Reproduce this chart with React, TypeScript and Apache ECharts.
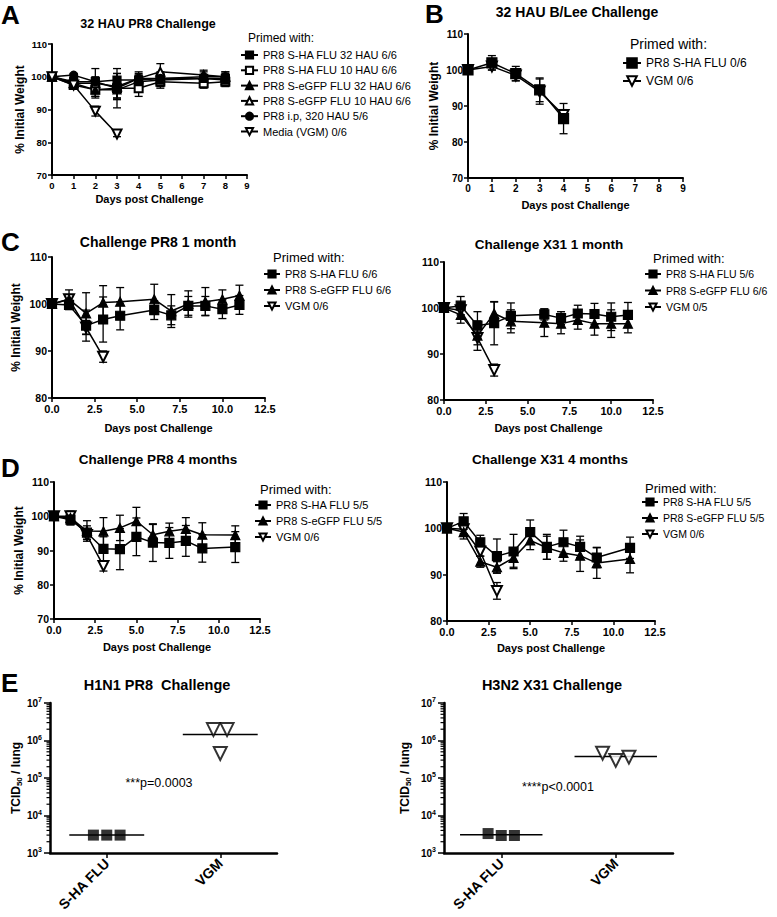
import React, { useEffect, useRef } from "react";
import * as echarts from "echarts";

const FONT = "'Liberation Sans', Arial, Helvetica, sans-serif";

// ---------- Panel A : 32 HAU PR8 Challenge ----------
const daysA = [0, 1, 2, 3, 4, 5, 7, 8];
const daysAVgm = [0, 1, 2, 3];
const aNames = [
  "PR8 S-HA FLU 32 HAU 6/6",
  "PR8 S-HA FLU 10 HAU 6/6",
  "PR8 S-eGFP FLU 32 HAU 6/6",
  "PR8 S-eGFP FLU 10 HAU 6/6",
  "PR8 i.p, 320 HAU 5/6",
  "Media (VGM) 0/6",
];
const aSha32 = [100, 98.5, 98.5, 99, 99, 99.5, 99.5, 99.5];
const aSha32Err = [0, 1, 1.5, 2, 1.5, 1.5, 1, 1.5];
const aSha10 = [100, 97.5, 96, 96.5, 96.5, 98.5, 98, 98.5];
const aSha10Err = [0, 1, 2, 3, 2.5, 2, 1.5, 1.5];
const aGfp32 = [100, 98, 96, 96, 98.5, 99, 99.5, 99];
const aGfp32Err = [0, 1, 2, 2.5, 2, 2, 1, 1];
const aGfp10 = [100, 98, 98, 97, 99.5, 101.5, 100.5, 100];
const aGfp10Err = [0, 1, 4.5, 4, 2, 2.5, 1.5, 1.5];
const aIp = [100, 100.5, 98.5, 96.5, 99.5, 99.5, 100, 100];
const aIpErr = [0, 0.5, 1, 6, 1.5, 2, 1.5, 1.5];
const aVgm = [100, 97.5, 89.5, 82.5];
const aVgmErr = [0, 0.8, 1.5, 0.8];

// ---------- Panel B : 32 HAU B/Lee Challenge ----------
const daysB = [0, 1, 2, 3, 4];
const bNames = ["PR8 S-HA FLU 0/6", "VGM 0/6"];
const bSha = [100, 102, 99, 94.5, 86.5];
const bShaErr = [0, 2, 2, 3.3, 4.2];
const bVgm = [100, 101, 98.5, 94, 87.5];
const bVgmErr = [0, 1, 1.5, 3.5, 1.5];

// ---------- Panel C left : Challenge PR8 1 month ----------
const daysC = [0, 1, 2, 3, 4, 6, 7, 8, 9, 10, 11];
const daysVgm = [0, 1, 2, 3];
const c1Names = ["PR8 S-HA FLU 6/6", "PR8 S-eGFP FLU 6/6", "VGM 0/6"];
const c1Sha = [100, 99.8, 95.4, 96.7, 97.5, 98.7, 97.6, 99.6, 99.6, 98.9, 99.8];
const c1ShaErr = [0, 1, 3.3, 4.8, 3, 2, 2, 2, 2, 2, 2];
const c1Gfp = [100, 101, 98, 100.3, 100.5, 101, 98.5, 100, 100.5, 101, 101.8];
const c1GfpErr = [0, 2, 4.4, 3.6, 3, 3.2, 3.5, 2.8, 3, 2, 2.2];
const c1Vgm = [100, 101, 95, 88.8];
const c1VgmErr = [0, 1, 1.5, 1.2];

// ---------- Panel C right : Challenge X31 1 month ----------
const c2Names = ["PR8 S-HA FLU 5/6", "PR8 S-eGFP FLU 6/6", "VGM 0/5"];
const c2Sha = [100, 100.5, 96.2, 96.7, 98.3, 98.6, 97.8, 98.8, 98.7, 98.1, 98.5];
const c2ShaErr = [0, 2, 3, 4.7, 2.8, 1.2, 1.4, 1.8, 2.3, 3, 2.7];
const c2Gfp = [100, 98.5, 94, 98.8, 97.1, 96.8, 96.6, 97.4, 96.6, 96.6, 96.6];
const c2GfpErr = [0, 1.8, 3.2, 2.5, 2.5, 3, 2.2, 2, 2.5, 3, 2];
const c2Vgm = [100, 99.5, 93.5, 86.5];
const c2VgmErr = [0, 1, 1.5, 1.3];

// ---------- Panel D left : Challenge PR8 4 months ----------
const daysD = [0, 1, 2, 3, 4, 5, 6, 7, 8, 9, 11];
const d1Names = ["PR8 S-HA FLU 5/5", "PR8 S-eGFP FLU 5/5", "VGM 0/6"];
const d1Sha = [100, 99, 95.2, 90.5, 90.4, 94, 92.3, 92.2, 92.8, 90.6, 91];
const d1ShaErr = [0, 1.5, 2, 3.5, 6, 5.5, 5.5, 4.5, 4.5, 4, 4.5];
const d1Gfp = [100, 99.5, 95.7, 95.6, 96.6, 98.6, 94.6, 95.6, 96.3, 94.6, 94.5];
const d1GfpErr = [0, 2, 3, 4, 3.7, 4, 3, 2.4, 3.3, 3.5, 2.7];
const d1Vgm = [100, 100, 94.5, 85.5];
const d1VgmErr = [0, 1, 1.2, 1.5];

// ---------- Panel D right : Challenge X31 4 months ----------
const d2Names = ["PR8 S-HA FLU 5/5", "PR8 S-eGFP FLU 5/5", "VGM 0/6"];
const d2Sha = [100, 101.5, 97, 94, 95, 99.2, 96, 97, 96, 93.7, 95.8];
const d2ShaErr = [0, 1.7, 1.5, 3.7, 3.7, 2.6, 2.7, 2.6, 2.3, 2.2, 2.3];
const d2Gfp = [100, 99.2, 92.8, 91.6, 93.6, 97.4, 95.8, 94.7, 94.1, 92.5, 93.4];
const d2GfpErr = [0, 1.5, 1.2, 1.2, 2, 2, 2.5, 1.8, 3.4, 3.3, 3];
const d2Vgm = [100, 99.8, 95, 86.5];
const d2VgmErr = [0, 1, 1, 1.8];

// ---------- Panel E : lung titres ----------
const eCategories = ["S-HA FLU", "VGM"];
const eCatPos = [1, 3];
const e1Sha = [3000, 3000, 3000];
const e1ShaJitter = [-0.235, 0, 0.235];
const e1Vgm = [1.95e6, 4.5e5, 1.95e6];
const e1VgmJitter = [-0.12, 0, 0.12];
const e2Sha = [3300, 2930, 2930];
const e2ShaJitter = [-0.23, 0, 0.23];
const e2Vgm = [4.6e5, 2.95e5, 3.6e5];
const e2VgmJitter = [-0.23, 0, 0.23];
const logTickValues = [1e3, 1e4, 1e5, 1e6, 1e7];

const mean = (a: number[]) => a.reduce((s, v) => s + v, 0) / a.length;

// ---------- helpers ----------
const BLACK = "#000";

function lineS(name: string, gi: number, days: number[], vals: number[], symbol: string, size: number, rotate = 0) {
  return {
    type: "line",
    name,
    xAxisIndex: gi,
    yAxisIndex: gi,
    data: days.map((d, i) => [d, vals[i]]),
    symbol,
    symbolSize: size,
    symbolRotate: rotate,
    lineStyle: { color: BLACK, width: 1.5 },
    itemStyle: { color: BLACK, borderColor: BLACK, borderWidth: 1.2 },
    z: 4,
    silent: true,
    animation: false,
  };
}

function errS(gi: number, days: number[], vals: number[], errs: number[]) {
  return {
    type: "custom",
    xAxisIndex: gi,
    yAxisIndex: gi,
    data: days.map((d, i) => [d, vals[i], errs[i]]),
    encode: { x: 0, y: 1 },
    clip: false,
    silent: true,
    z: 3,
    renderItem: (_p: any, api: any) => {
      const x = api.value(0);
      const y = api.value(1);
      const e = api.value(2);
      const t = api.coord([x, y + e]);
      const b = api.coord([x, y - e]);
      const w = 4;
      const st = { stroke: BLACK, lineWidth: 1.3 };
      return {
        type: "group",
        children: [
          { type: "line", shape: { x1: t[0], y1: t[1], x2: b[0], y2: b[1] }, style: st },
          { type: "line", shape: { x1: t[0] - w, y1: t[1], x2: t[0] + w, y2: t[1] }, style: st },
          { type: "line", shape: { x1: b[0] - w, y1: b[1], x2: b[0] + w, y2: b[1] }, style: st },
        ],
      };
    },
  };
}

function txt(x: number, y: number, text: string, fontSize: number, bold: boolean, align = "left") {
  return {
    type: "text",
    x,
    y,
    silent: true,
    style: {
      text,
      fontSize,
      fontWeight: bold ? "bold" : "normal",
      fontFamily: FONT,
      fill: BLACK,
      align,
      textAlign: align,
      verticalAlign: "middle",
      textVerticalAlign: "middle",
    },
  };
}

function xAxisW(gi: number, max: number, interval: number, fs: number, fixed: boolean, nameGap: number) {
  return {
    type: "value",
    gridIndex: gi,
    min: 0,
    max,
    interval,
    name: "Days post Challenge",
    nameLocation: "middle",
    nameGap,
    nameTextStyle: { color: BLACK, fontWeight: "bold", fontSize: 11, fontFamily: FONT },
    axisLine: { show: true, onZero: false, lineStyle: { color: BLACK, width: 2 } },
    axisTick: { show: true, length: 4, lineStyle: { color: BLACK, width: 1.5 } },
    splitLine: { show: false },
    axisLabel: {
      color: BLACK,
      fontWeight: "bold",
      fontSize: fs,
      fontFamily: FONT,
      margin: 5,
      formatter: (v: number) => (fixed ? v.toFixed(1) : String(v)),
    },
  };
}

function yAxisW(gi: number, min: number, fs: number, withName: boolean, nameGap: number) {
  return {
    type: "value",
    gridIndex: gi,
    min,
    max: 110,
    interval: 10,
    name: withName ? "% Initial Weight" : "",
    nameLocation: "middle",
    nameRotate: 90,
    nameGap,
    nameTextStyle: { color: BLACK, fontWeight: "bold", fontSize: 12, fontFamily: FONT },
    axisLine: { show: true, lineStyle: { color: BLACK, width: 2 } },
    axisTick: { show: true, length: 4, lineStyle: { color: BLACK, width: 1.5 } },
    splitLine: { show: false },
    axisLabel: { color: BLACK, fontWeight: "bold", fontSize: fs, fontFamily: FONT, margin: 5 },
  };
}

function xAxisE(gi: number) {
  return {
    type: "value",
    gridIndex: gi,
    min: 0,
    max: 4,
    interval: 1,
    axisLine: { show: true, onZero: false, lineStyle: { color: BLACK, width: 2.5 } },
    axisTick: { show: true, customValues: eCatPos, length: 5, lineStyle: { color: BLACK, width: 1.5 } },
    splitLine: { show: false },
    axisLabel: {
      customValues: eCatPos,
      rotate: 45,
      margin: 8,
      color: BLACK,
      fontWeight: "bold",
      fontSize: 14,
      fontFamily: FONT,
      formatter: (v: number) => (v === eCatPos[0] ? eCategories[0] : v === eCatPos[1] ? eCategories[1] : ""),
    },
  };
}

function yAxisE(gi: number, nameGap: number) {
  return {
    type: "log",
    gridIndex: gi,
    logBase: 10,
    min: logTickValues[0],
    max: logTickValues[logTickValues.length - 1],
    name: "{a|TCID}{s|50}{a| / lung}",
    nameLocation: "middle",
    nameRotate: 90,
    nameGap,
    nameTextStyle: {
      rich: {
        a: { fontSize: 12, fontWeight: "bold", fontFamily: FONT, color: BLACK, lineHeight: 14 },
        s: { fontSize: 8, fontWeight: "bold", fontFamily: FONT, color: BLACK, lineHeight: 6, verticalAlign: "bottom" },
      },
    },
    axisLine: { show: true, lineStyle: { color: BLACK, width: 2.5 } },
    axisTick: { show: true, length: 6, lineStyle: { color: BLACK, width: 1.5 } },
    splitLine: { show: false },
    axisLabel: {
      margin: 8,
      formatter: (v: number) => `{b|10}{e|${Math.round(Math.log10(v))}}`,
      rich: {
        b: { fontSize: 10, fontWeight: "bold", fontFamily: FONT, color: BLACK, lineHeight: 14 },
        e: { fontSize: 7, fontWeight: "bold", fontFamily: FONT, color: BLACK, lineHeight: 6, verticalAlign: "top" },
      },
    },
  };
}

function minorTicksS(gi: number) {
  const vals: number[] = [];
  for (let i = 0; i < logTickValues.length - 1; i++) {
    for (let k = 2; k < 10; k++) vals.push(k * logTickValues[i]);
  }
  return {
    type: "custom",
    xAxisIndex: gi,
    yAxisIndex: gi,
    data: vals.map((v) => [0, v]),
    encode: { x: 0, y: 1 },
    clip: false,
    silent: true,
    z: 2,
    renderItem: (_p: any, api: any) => {
      const pt = api.coord([0, api.value(1)]);
      return {
        type: "line",
        shape: { x1: pt[0] - 3.5, y1: pt[1], x2: pt[0], y2: pt[1] },
        style: { stroke: BLACK, lineWidth: 1.2 },
      };
    },
  };
}

function meanLineS(gi: number, means: number[], halfWidth: number) {
  return {
    type: "custom",
    xAxisIndex: gi,
    yAxisIndex: gi,
    data: eCatPos.map((c, i) => [c, means[i]]),
    encode: { x: 0, y: 1 },
    clip: false,
    silent: true,
    z: 2,
    renderItem: (_p: any, api: any) => {
      const x = api.value(0);
      const m = api.value(1);
      const a = api.coord([x - halfWidth, m]);
      const b = api.coord([x + halfWidth, m]);
      return { type: "line", shape: { x1: a[0], y1: a[1], x2: b[0], y2: b[1] }, style: { stroke: BLACK, lineWidth: 1.5 } };
    },
  };
}

function scatterS(gi: number, center: number, jitter: number[], vals: number[], filled: boolean) {
  return {
    type: "scatter",
    xAxisIndex: gi,
    yAxisIndex: gi,
    data: vals.map((v, i) => [center + jitter[i], v]),
    symbol: filled ? "rect" : "emptyTriangle",
    symbolRotate: filled ? 0 : 180,
    symbolSize: filled ? 11 : 13,
    itemStyle: { color: BLACK, borderColor: BLACK, borderWidth: filled ? 0 : 1.5 },
    z: 4,
    silent: true,
  };
}

function legendW(names: string[], left: number, top: number, fs: number, itemW: number, itemH: number, gap: number) {
  return {
    data: names,
    orient: "vertical",
    left,
    top,
    padding: 0,
    itemWidth: itemW,
    itemHeight: itemH,
    itemGap: gap,
    selectedMode: false,
    textStyle: { fontSize: fs, fontFamily: FONT, color: BLACK },
  };
}

function buildOption() {
  const series: any[] = [];
  // A
  const aVals = [aSha32, aSha10, aGfp32, aGfp10, aIp];
  const aErrs = [aSha32Err, aSha10Err, aGfp32Err, aGfp10Err, aIpErr];
  const aSym = ["rect", "emptyRect", "triangle", "emptyTriangle", "circle"];
  aVals.forEach((v, i) => series.push(errS(0, daysA, v, aErrs[i])));
  series.push(errS(0, daysAVgm, aVgm, aVgmErr));
  aVals.forEach((v, i) => series.push(lineS(aNames[i], 0, daysA, v, aSym[i], 8)));
  series.push(lineS(aNames[5], 0, daysAVgm, aVgm, "emptyTriangle", 9, 180));
  // B
  series.push(errS(1, daysB, bSha, bShaErr), errS(1, daysB, bVgm, bVgmErr));
  series.push(lineS(bNames[1], 1, daysB, bVgm, "emptyTriangle", 10, 180));
  series.push(lineS(bNames[0], 1, daysB, bSha, "rect", 10));
  // C/D weight panels
  const wPanels = [
    { gi: 2, days: daysC, names: c1Names, sha: c1Sha, shaE: c1ShaErr, gfp: c1Gfp, gfpE: c1GfpErr, vgm: c1Vgm, vgmE: c1VgmErr },
    { gi: 3, days: daysC, names: c2Names, sha: c2Sha, shaE: c2ShaErr, gfp: c2Gfp, gfpE: c2GfpErr, vgm: c2Vgm, vgmE: c2VgmErr },
    { gi: 4, days: daysD, names: d1Names, sha: d1Sha, shaE: d1ShaErr, gfp: d1Gfp, gfpE: d1GfpErr, vgm: d1Vgm, vgmE: d1VgmErr },
    { gi: 5, days: daysD, names: d2Names, sha: d2Sha, shaE: d2ShaErr, gfp: d2Gfp, gfpE: d2GfpErr, vgm: d2Vgm, vgmE: d2VgmErr },
  ];
  wPanels.forEach((p) => {
    series.push(errS(p.gi, p.days, p.sha, p.shaE), errS(p.gi, p.days, p.gfp, p.gfpE), errS(p.gi, daysVgm, p.vgm, p.vgmE));
    series.push(lineS(p.names[2], p.gi, daysVgm, p.vgm, "emptyTriangle", 10, 180));
    series.push(lineS(p.names[1], p.gi, p.days, p.gfp, "triangle", 9));
    series.push(lineS(p.names[0], p.gi, p.days, p.sha, "rect", 9));
  });
  // E
  series.push(minorTicksS(6), minorTicksS(7));
  series.push(meanLineS(6, [mean(e1Sha), mean(e1Vgm)], 0.66));
  series.push(meanLineS(7, [mean(e2Sha), mean(e2Vgm)], 0.72));
  series.push(scatterS(6, eCatPos[0], e1ShaJitter, e1Sha, true));
  series.push(scatterS(6, eCatPos[1], e1VgmJitter, e1Vgm, false));
  series.push(scatterS(7, eCatPos[0], e2ShaJitter, e2Sha, true));
  series.push(scatterS(7, eCatPos[1], e2VgmJitter, e2Vgm, false));

  return {
    animation: false,
    backgroundColor: "#fff",
    textStyle: { fontFamily: FONT },
    grid: [
      { left: 52, top: 44, width: 195, height: 131 },
      { left: 468, top: 34, width: 215, height: 144 },
      { left: 52, top: 257, width: 213, height: 141 },
      { left: 444, top: 262, width: 209, height: 138 },
      { left: 54, top: 482, width: 206, height: 137 },
      { left: 447, top: 482, width: 208, height: 139 },
      { left: 50, top: 703, width: 227, height: 150 },
      { left: 444, top: 703, width: 229, height: 150 },
    ],
    xAxis: [
      xAxisW(0, 9, 1, 9.5, false, 18),
      xAxisW(1, 9, 1, 10, false, 21),
      xAxisW(2, 12.5, 2.5, 11, true, 24),
      xAxisW(3, 12.5, 2.5, 11, true, 22),
      xAxisW(4, 12.5, 2.5, 11, true, 22),
      xAxisW(5, 12.5, 2.5, 11, true, 21),
      xAxisE(6),
      xAxisE(7),
    ],
    yAxis: [
      yAxisW(0, 70, 9.5, true, 26),
      yAxisW(1, 70, 10, true, 28),
      yAxisW(2, 80, 10.5, true, 30),
      yAxisW(3, 80, 10.5, false, 30),
      yAxisW(4, 70, 10.5, true, 29),
      yAxisW(5, 80, 10.5, false, 30),
      yAxisE(6, 26),
      yAxisE(7, 32),
    ],
    legend: [
      legendW(aNames, 240, 49.5, 11, 17, 9, 4.3),
      legendW(bNames, 622, 57, 12, 18, 12, 6),
      legendW(c1Names, 263, 268.5, 11, 16, 9, 5),
      legendW(c2Names, 644, 268.5, 10.5, 16, 9, 5.5),
      legendW(d1Names, 254, 499.5, 11, 16, 9, 5),
      legendW(d2Names, 641, 496.5, 10.5, 16, 9, 5),
    ],
    graphic: [
      txt(1, 15, "A", 26, true),
      txt(425, 14, "B", 26, true),
      txt(1, 242, "C", 26, true),
      txt(1, 468, "D", 26, true),
      txt(1, 683, "E", 26, true),
      txt(148, 24, "32 HAU PR8 Challenge", 12.5, true, "center"),
      txt(577, 12, "32 HAU B/Lee Challenge", 14, true, "center"),
      txt(158, 242, "Challenge PR8 1 month", 14, true, "center"),
      txt(549, 244, "Challenge X31 1 month", 13.5, true, "center"),
      txt(158, 459, "Challenge PR8 4 months", 13.5, true, "center"),
      txt(550, 459, "Challenge X31 4 months", 13.5, true, "center"),
      txt(157, 685, "H1N1 PR8  Challenge", 14.5, true, "center"),
      txt(552, 685, "H3N2 X31 Challenge", 14.5, true, "center"),
      txt(248, 38, "Primed with:", 12, false),
      txt(630, 44, "Primed with:", 14, false),
      txt(273, 257, "Primed with:", 13, false),
      txt(653, 258, "Primed with:", 13, false),
      txt(260, 489, "Primed with:", 13, false),
      txt(645, 488, "Primed with:", 13, false),
      txt(159, 783, "***p=0.0003", 12.5, false, "center"),
      txt(558, 787, "****p<0.0001", 12.5, false, "center"),
    ],
    series,
  };
}

export default function App() {
  const ref = useRef<HTMLDivElement>(null);
  useEffect(() => {
    if (!ref.current) return;
    const chart = echarts.init(ref.current, null, { renderer: "svg" });
    chart.setOption(buildOption() as any);
    return () => chart.dispose();
  }, []);
  return (
    <div
      ref={ref}
      style={{ position: "absolute", left: 0, top: 0, width: 777, height: 917, background: "#fff" }}
    />
  );
}
